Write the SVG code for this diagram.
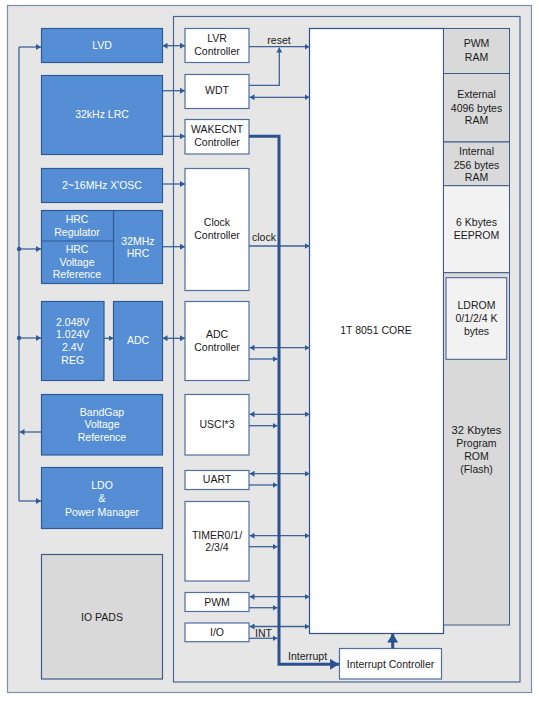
<svg xmlns="http://www.w3.org/2000/svg" width="539" height="701" viewBox="0 0 539 701">
<defs>
<style>
text{font-family:"Liberation Sans",Arial,sans-serif;font-size:10.5px;text-anchor:middle;fill:#1a1a1a}
.blue rect{fill:#558ed5;stroke:#2f5a95;stroke-width:1.2}
.blue text{fill:#ffffff}
.blue line{stroke:#2f5a95;stroke-width:1.2}
.wb rect{fill:#ffffff;stroke:#4f6f9f;stroke-width:1.2}
.mem rect{stroke:#3d5a8a;stroke-width:1}
.big{font-size:11.2px}
.c path,.c line{fill:none;stroke:#3e6399;stroke-width:1.3}
.c .thick{stroke:#2a5190;stroke-width:3}
.lbl{text-anchor:start}
</style>
<marker id="a" viewBox="0 0 5 6" markerWidth="5" markerHeight="6" refX="5" refY="3" orient="auto-start-reverse" markerUnits="userSpaceOnUse"><path d="M0,0L5,3L0,6z" fill="#2f5a95"/></marker>
<marker id="big" viewBox="0 0 9 11" markerWidth="9" markerHeight="11" refX="9" refY="5.5" orient="auto" markerUnits="userSpaceOnUse"><path d="M0,0L9,5.5L0,11z" fill="#2a5190"/></marker>
</defs>
<rect x="7.5" y="5.5" width="524" height="687" fill="#e6e6e6" stroke="#7f8fa9" stroke-width="1.2"/>
<rect x="173.5" y="16.5" width="346.5" height="665.5" fill="#e6e6e6" stroke="#4a6797" stroke-width="1.2"/>

<g id="lvd" class="blue"><rect x="41.5" y="28.5" width="121" height="34"/><text x="102" y="49">LVD</text></g>
<g id="lrc" class="blue"><rect x="41.5" y="75.5" width="121" height="79"/><text x="102" y="118">32kHz LRC</text></g>
<g id="xosc" class="blue"><rect x="41.5" y="168.5" width="121" height="34"/><text x="102" y="189">2~16MHz X'OSC</text></g>
<g id="hrc" class="blue"><rect x="41.5" y="210.5" width="121" height="73"/><line x1="113.5" y1="210.5" x2="113.5" y2="283.5"/><line x1="41.5" y1="241" x2="113.5" y2="241"/>
<text x="77" y="223.3">HRC</text><text x="77" y="236.3">Regulator</text>
<text x="77" y="253">HRC</text><text x="77" y="265.6">Voltage</text><text x="77" y="278">Reference</text>
<text x="138" y="244.6">32MHz</text><text x="138" y="256.6">HRC</text></g>
<g id="reg" class="blue"><rect x="41.5" y="301.5" width="62.5" height="79"/><text x="72.7" y="325.7">2.048V</text><text x="72.7" y="338.3">1.024V</text><text x="72.7" y="351.3">2.4V</text><text x="72.7" y="364">REG</text></g>
<g id="adc" class="blue"><rect x="113.5" y="301.5" width="49" height="79"/><text x="138" y="344">ADC</text></g>
<g id="bandgap" class="blue"><rect x="41.5" y="394.5" width="121" height="60.5"/><text x="102" y="415.7">BandGap</text><text x="102" y="428.3">Voltage</text><text x="102" y="441.3">Reference</text></g>
<g id="ldo" class="blue"><rect x="41.5" y="467.5" width="121" height="61"/><text x="102" y="489">LDO</text><text x="102" y="502">&amp;</text><text x="102" y="516">Power Manager</text></g>
<g id="iopads"><rect x="41.5" y="554.5" width="121" height="124.5" fill="#d9d9d9" stroke="#3d5a8a" stroke-width="1.2"/><text x="102" y="621">IO PADS</text></g>

<g id="lvr" class="wb"><rect x="185" y="28.5" width="64" height="34"/><text x="217" y="42.3">LVR</text><text x="217" y="55">Controller</text></g>
<g id="wdt" class="wb"><rect x="185" y="74.5" width="64" height="34"/><text x="217" y="94">WDT</text></g>
<g id="wakecnt" class="wb"><rect x="185" y="119.5" width="64" height="34.5"/><text x="217" y="133.3">WAKECNT</text><text x="217" y="146">Controller</text></g>
<g id="clock" class="wb"><rect x="185" y="168.5" width="64" height="122"/><text x="217" y="226.3">Clock</text><text x="217" y="239.3">Controller</text></g>
<g id="adcctl" class="wb"><rect x="185" y="301.5" width="64" height="79"/><text x="217" y="338.3">ADC</text><text x="217" y="351">Controller</text></g>
<g id="usci" class="wb"><rect x="185" y="394.5" width="64" height="60.5"/><text x="217" y="428">USCI*3</text></g>
<g id="uart" class="wb"><rect x="185" y="470.5" width="64" height="19"/><text x="217" y="483">UART</text></g>
<g id="timer" class="wb"><rect x="185" y="501.5" width="64" height="79.5"/><text x="217" y="538.7">TIMER0/1/</text><text x="217" y="551">2/3/4</text></g>
<g id="pwm" class="wb"><rect x="185" y="592.5" width="64" height="19"/><text x="217" y="606">PWM</text></g>
<g id="io" class="wb"><rect x="185" y="623" width="64" height="18.7"/><text x="217" y="636">I/O</text></g>

<g id="core"><rect x="309.5" y="28.5" width="134" height="605" fill="#ffffff" stroke="#2f4f8f" stroke-width="1.2"/><text x="376" y="334">1T 8051 CORE</text></g>
<g id="memory" class="mem">
<rect x="443.5" y="28.5" width="66" height="45" fill="#d9d9d9"/><text x="476.5" y="47.3">PWM</text><text x="476.5" y="61">RAM</text>
<rect x="443.5" y="73.5" width="66" height="68.5" fill="#d9d9d9"/><text x="476.5" y="98.3">External</text><text x="476.5" y="111.7">4096 bytes</text><text x="476.5" y="124">RAM</text>
<rect x="443.5" y="142" width="66" height="43.7" fill="#d9d9d9"/><text x="476.5" y="155.3">Internal</text><text x="476.5" y="168.7">256 bytes</text><text x="476.5" y="181">RAM</text>
<rect x="443.5" y="185.7" width="66" height="87" fill="#f2f2f2"/><text x="476.5" y="226.3">6 Kbytes</text><text x="476.5" y="239">EEPROM</text>
<rect x="443.5" y="272.7" width="66" height="352.3" fill="#d9d9d9"/>
<rect x="446" y="277.7" width="60.7" height="81.6" fill="#f2f2f2"/><text x="476.5" y="309">LDROM</text><text x="476.5" y="322">0/1/2/4 K</text><text x="476.5" y="335">bytes</text>
<text class="big" x="476.5" y="434">32 Kbytes</text><text x="476.5" y="447.3">Program</text><text x="476.5" y="460.3">ROM</text><text x="476.5" y="473">(Flash)</text>
</g>
<g id="intctl" class="wb"><rect x="339.5" y="648.5" width="102" height="30.5"/><text x="390.5" y="668.3">Interrupt Controller</text></g>

<g id="connectors" class="c">
<path d="M41,432H19.5" marker-end="url(#a)"/>
<path d="M19,47V501"/>
<path d="M19,47H41" marker-end="url(#a)"/>
<path d="M19,249H41" marker-end="url(#a)"/>
<path d="M19,338H41" marker-end="url(#a)"/>
<path d="M19,501H41" marker-end="url(#a)"/>
<circle cx="19" cy="249" r="2.2" fill="#2f5a95"/>
<circle cx="19" cy="338" r="2.2" fill="#2f5a95"/>
<path d="M162.5,45.7H185" marker-start="url(#a)" marker-end="url(#a)"/>
<path d="M162.5,90.7H185" marker-end="url(#a)"/>
<path d="M162.5,136.3H185" marker-end="url(#a)"/>
<path d="M162.5,184H185" marker-end="url(#a)"/>
<path d="M162.5,246.7H185" marker-end="url(#a)"/>
<path d="M104,338.3H113.5" marker-end="url(#a)"/>
<path d="M162.5,338.3H185" marker-start="url(#a)" marker-end="url(#a)"/>
<path d="M249,46.7H309.5" marker-end="url(#a)"/>
<path d="M249,85.3H279.3V47.5" marker-end="url(#a)"/>
<path d="M249.5,97.3H309.5" marker-start="url(#a)" marker-end="url(#a)"/>
<path d="M249,246H309.5" marker-end="url(#a)"/>
<path d="M249.5,347.7H309.5" marker-start="url(#a)" marker-end="url(#a)"/>
<path d="M249,359H277.5" marker-end="url(#a)"/>
<path d="M249.5,414.3H309.5" marker-start="url(#a)" marker-end="url(#a)"/>
<path d="M249,425.7H277.5" marker-end="url(#a)"/>
<path d="M249.5,473.7H309.5" marker-start="url(#a)" marker-end="url(#a)"/>
<path d="M249,485H277.5" marker-end="url(#a)"/>
<path d="M249.5,535.7H309.5" marker-start="url(#a)" marker-end="url(#a)"/>
<path d="M249,546.7H277.5" marker-end="url(#a)"/>
<path d="M249.5,596.7H309.5" marker-start="url(#a)" marker-end="url(#a)"/>
<path d="M249,607.7H277.5" marker-end="url(#a)"/>
<path d="M249.5,626.5H309.5" marker-start="url(#a)" marker-end="url(#a)"/>
<path d="M249,638.3H277.5" marker-end="url(#a)"/>
<path class="thick" d="M249,136.3H279V664.3H339" marker-end="url(#big)"/>
<path class="thick" d="M392.7,648.5V633.5" marker-end="url(#big)"/>
<text x="279" y="44">reset</text>
<text class="lbl" x="252" y="240.7">clock</text>
<text class="lbl" x="255" y="637.3">INT</text>
<text class="lbl" x="288" y="659.7">Interrupt</text>
</g>
</svg>
